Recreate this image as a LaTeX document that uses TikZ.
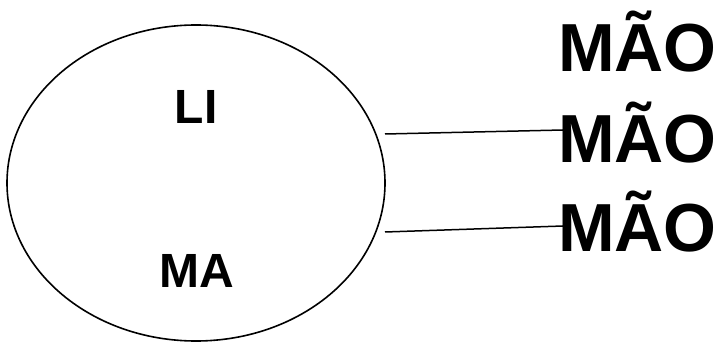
\documentclass[tikz,border=0pt]{standalone}
\usepackage{fontspec}
\setmainfont{Liberation Sans}
\begin{document}
\begin{tikzpicture}[x=1pt,y=-1pt,
  big/.style={font=\fontsize{68}{68}\selectfont\bfseries,inner sep=0pt,anchor=base west},
  inner/.style={font=\fontsize{48}{48}\selectfont\bfseries,inner sep=0pt,anchor=base},
  conn/.style={line width=1.5pt}]
\useasboundingbox (0,0) rectangle (720,347);
\draw[line width=1.6pt] (196,183) ellipse [x radius=189, y radius=158];
\node[inner] (li) at (196,124) {LI};
\node[inner] (ma) at (197,288) {MA};
\node[big] (m1) at (558,72) {MÃO};
\node[big] (m2) at (558,163) {MÃO};
\node[big] (m3) at (558,252) {MÃO};
\coordinate (a1) at (385,134);
\coordinate (b1) at (563,130);
\coordinate (a2) at (385,232);
\coordinate (b2) at (563,226);
\draw[conn] (a1) -- (b1);
\draw[conn] (a2) -- (b2);
\end{tikzpicture}
\end{document}
